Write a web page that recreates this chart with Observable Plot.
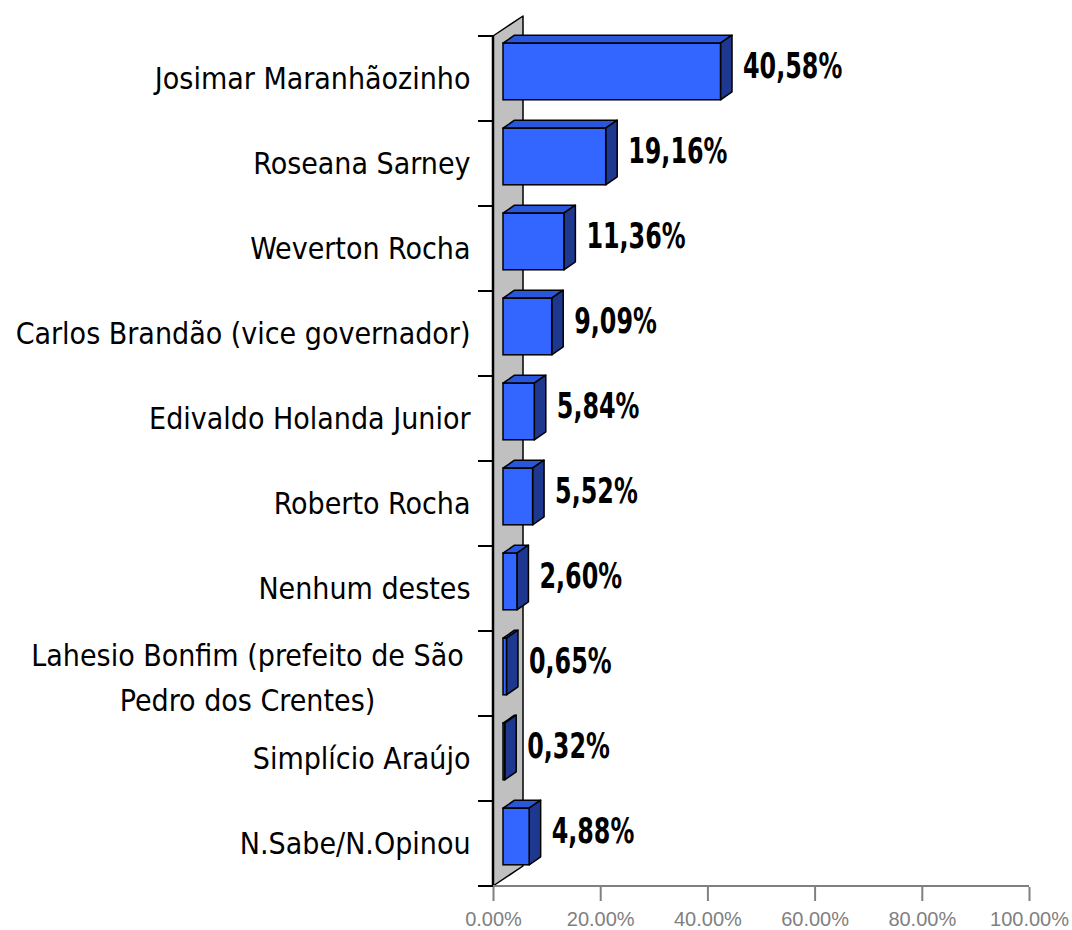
<!DOCTYPE html>
<html>
<head>
<meta charset="utf-8">
<script src="https://cdn.jsdelivr.net/npm/d3@7"></script>
<script src="https://cdn.jsdelivr.net/npm/@observablehq/plot@0.6"></script>
<style>
  html, body { margin: 0; padding: 0; background: #ffffff; }
  #chart svg { display: block; }
</style>
</head>
<body>
<div id="chart"></div>
<script>
// ---- data ----
const categories = [
  "Josimar Maranhãozinho",
  "Roseana Sarney",
  "Weverton Rocha",
  "Carlos Brandão (vice governador)",
  "Edivaldo Holanda Junior",
  "Roberto Rocha",
  "Nenhum destes",
  "Lahesio Bonfim (prefeito de São Pedro dos Crentes)",
  "Simplício Araújo",
  "N.Sabe/N.Opinou"
];
const categoryLabels = [
  "Josimar Maranhãozinho",
  "Roseana Sarney",
  "Weverton Rocha",
  "Carlos Brandão (vice governador)",
  "Edivaldo Holanda Junior",
  "Roberto Rocha",
  "Nenhum destes",
  "Lahesio Bonfim (prefeito de São\nPedro dos Crentes)",
  "Simplício Araújo",
  "N.Sabe/N.Opinou"
];
const values = [40.58, 19.16, 11.36, 9.09, 5.84, 5.52, 2.60, 0.65, 0.32, 4.88];
const valueLabels = ["40,58%", "19,16%", "11,36%", "9,09%", "5,84%", "5,52%", "2,60%", "0,65%", "0,32%", "4,88%"];
const xTicks = [0, 20, 40, 60, 80, 100];
const xTickLabels = ["0.00%", "20.00%", "40.00%", "60.00%", "80.00%", "100.00%"];

// ---- table built from the arrays ----
const rows = categories.map((name, i) => ({
  name, label: categoryLabels[i], value: values[i], text: valueLabels[i]
}));
const singleLine = rows.filter(d => !d.label.includes("\n"));
const multiLine = rows.filter(d => d.label.includes("\n"));

// ---- 3D styling (pixels) ----
const FRONT = {dx: 10, dy: -7};    // bar front face offset from the axis plane
const DEPTH = {dx: 11.5, dy: -8};  // bar depth
const WALL = {dx: 30, dy: -20};    // side wall depth
const INSET = 14.2;
const labelFont = "'DejaVu Sans Condensed', 'DejaVu Sans', sans-serif";

function bandOf(scales, dims) {
  const y = scales.y;
  if (typeof y.bandwidth === "function") return y.bandwidth();
  return (y(categories[1]) - y(categories[0]));
}

// side wall, category ticks, value-axis baseline
function wallMark(index, scales, values, dims) {
  const x = scales.x, y = scales.y;
  const bw = bandOf(scales, dims);
  const top = y(categories[0]);
  const bottom = y(categories[categories.length - 1]) + bw;
  const x0 = x(0);
  const g = d3.create("svg:g");
  g.append("path")
    .attr("d", `M${x0},${top}L${x0 + WALL.dx},${top + WALL.dy}L${x0 + WALL.dx},${bottom + WALL.dy}L${x0},${bottom}Z`)
    .attr("fill", "#C0C0C0").attr("stroke", "#000").attr("stroke-width", 1.5)
    .attr("stroke-linejoin", "round");
  g.append("line")
    .attr("x1", x0).attr("x2", x0).attr("y1", top).attr("y2", bottom)
    .attr("stroke", "#000").attr("stroke-width", 2.5);
  g.append("line")
    .attr("x1", x0).attr("x2", x(100)).attr("y1", bottom).attr("y2", bottom)
    .attr("stroke", "#808080").attr("stroke-width", 2);
  for (let i = 0; i <= categories.length; i++) {
    const yy = top + i * bw;
    g.append("line")
      .attr("x1", x0 - 15).attr("x2", x0).attr("y1", yy).attr("y2", yy)
      .attr("stroke", "#000").attr("stroke-width", 2);
  }
  return g.node();
}

// top and side faces of each bar
function barFaces(index, scales, values, dims) {
  const x = scales.x, y = scales.y;
  const bw = bandOf(scales, dims);
  const g = d3.create("svg:g")
    .attr("stroke", "#000").attr("stroke-width", 1.5).attr("stroke-linejoin", "round");
  rows.forEach(d => {
    const xa = x(0) + FRONT.dx, xb = x(d.value) + FRONT.dx;
    const yt = y(d.name) + INSET + FRONT.dy, yb = y(d.name) + bw - INSET + FRONT.dy;
    g.append("path")
      .attr("d", `M${xa},${yt}L${xb},${yt}L${xb + DEPTH.dx},${yt + DEPTH.dy}L${xa + DEPTH.dx},${yt + DEPTH.dy}Z`)
      .attr("fill", "#2A56DA");
    g.append("path")
      .attr("d", `M${xb},${yt}L${xb + DEPTH.dx},${yt + DEPTH.dy}L${xb + DEPTH.dx},${yb + DEPTH.dy}L${xb},${yb}Z`)
      .attr("fill", "#1E3890");
  });
  return g.node();
}

const chart = Plot.plot({
  width: 1072,
  height: 930,
  marginLeft: 493,
  marginRight: 43,
  marginTop: 34,
  marginBottom: 43,
  style: {background: "#ffffff", color: "#000"},
  x: {domain: [0, 100]},
  y: {domain: categories, padding: 0, axis: null},
  marks: [
    wallMark,
    Plot.axisX({
      ticks: xTicks,
      tickFormat: d => xTickLabels[xTicks.indexOf(d)],
      tickSize: 14,
      tickPadding: 10,
      color: "#808080",
      strokeWidth: 2,
      fontSize: 20,
      fontFamily: "'Liberation Sans', Arial, sans-serif",
      label: null
    }),
    barFaces,
    Plot.barX(rows, {
      x: "value", y: "name",
      dx: FRONT.dx, dy: FRONT.dy,
      insetTop: INSET, insetBottom: INSET,
      fill: "#3366FF", stroke: "#000", strokeWidth: 1.5
    }),
    Plot.text(singleLine, {
      x: () => 0, y: "name", text: "label",
      textAnchor: "end", dx: -23,
      fontSize: 30, fontFamily: labelFont, fill: "#000"
    }),
    Plot.text(multiLine, {
      x: () => 0, y: "name", text: "label",
      textAnchor: "middle", dx: -246, lineHeight: 1.5,
      fontSize: 30, fontFamily: labelFont, fill: "#000"
    }),
    Plot.text(rows, {
      x: "value", y: "name", text: "text",
      textAnchor: "start", dx: 32, dy: -12,
      fontSize: 26.5, fontWeight: "bold", fontFamily: labelFont, fill: "#000"
    })
  ]
});

// value labels are drawn taller than wide, as in the reference
chart.querySelectorAll('g[font-weight="bold"] text').forEach(t => {
  t.setAttribute("transform", (t.getAttribute("transform") || "") + " scale(1,1.32)");
});

document.getElementById("chart").appendChild(chart);
</script>
</body>
</html>
